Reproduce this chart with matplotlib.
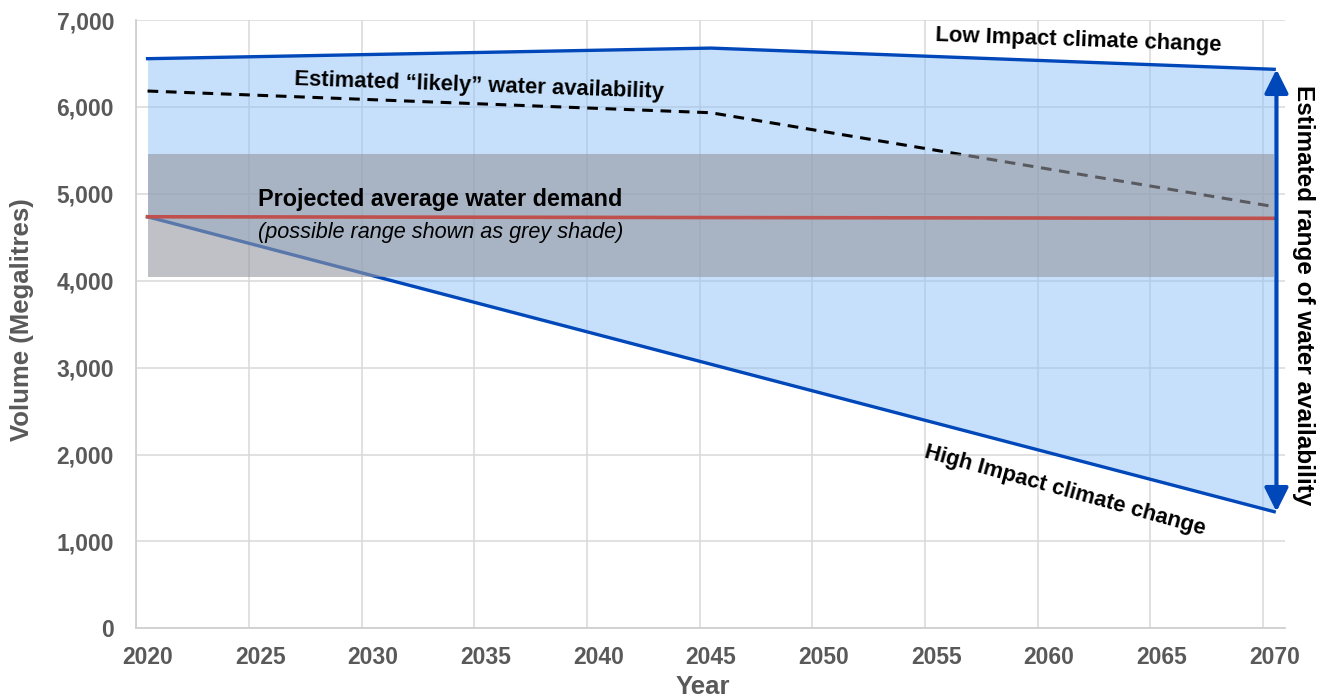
import numpy as np
import matplotlib
matplotlib.use('Agg')
import matplotlib.pyplot as plt
from matplotlib.ticker import FuncFormatter

plt.rcParams['font.family'] = ['Liberation Sans', 'DejaVu Sans']

# Data (Megalitres)
years = [2020, 2045, 2070]
low_impact = [6555, 6677, 6433]     # Low Impact climate change
likely = [6183, 5933, 4852]         # Estimated "likely" water availability
high_impact = [4736, 3039, 1342]    # High Impact climate change
demand_years = [2020, 2070]
demand = [4736, 4718]               # Projected average water demand
demand_low = [4046, 4046]           # possible range (grey shade)
demand_high = [5455, 5455]

tick_years = list(range(2020, 2071, 5))
y_ticks = list(range(0, 7001, 1000))

blue = '#0047BA'
label_grey = '#595959'

fig = plt.figure(figsize=(13.27, 7), dpi=100)
ax = fig.add_axes([0.1027, 0.1024, 0.866, 0.869])

# gridlines halfway between the data points (category-style axis)
for yr in tick_years:
    ax.axvline(yr - 0.5, color='#d9d9d9', lw=1.1, zorder=0)
for v in y_ticks:
    ax.axhline(v, color='#d9d9d9', lw=1.1, zorder=0)

# range of water availability
ax.fill_between(years, high_impact, low_impact, color='#8FC3F9', alpha=0.5, lw=0, zorder=1)
ax.plot(years, low_impact, color=blue, lw=2.4, zorder=2)
ax.plot(years, high_impact, color=blue, lw=2.4, zorder=2)
ax.plot(years, likely, color='black', lw=2.2, ls=(0, (3.5, 2.5)), zorder=2)

# demand range shade and average demand
ax.fill_between(demand_years, demand_low, demand_high, color='#9598a0', alpha=0.6, lw=0, zorder=3)
ax.plot(demand_years, demand, color='#C0504D', lw=2.6, zorder=4)

# double arrow for the range at the end year
ax.annotate('', xy=(years[-1] + 0.1, low_impact[-1]), xytext=(years[-1] + 0.1, high_impact[-1]),
            arrowprops=dict(arrowstyle='<|-|>', color=blue, lw=3, mutation_scale=36,
                            shrinkA=0, shrinkB=0), zorder=5, annotation_clip=False)
ax.text(2071.3, 3835, 'Estimated range of water availability', rotation=-90,
        ha='center', va='center', fontsize=17.5, fontweight='bold', color='black')

# annotations
ax.text(2061.3, 6770, 'Low Impact climate change', rotation=-2, rotation_mode='anchor',
        ha='center', va='center', fontsize=15.8, fontweight='bold')
ax.text(2034.7, 6240, 'Estimated \u201clikely\u201d water availability', rotation=-2,
        rotation_mode='anchor', ha='center', va='center', fontsize=15.8, fontweight='bold')
ax.text(2060.7, 1580, 'High Impact climate change', rotation=-15.5, rotation_mode='anchor',
        ha='center', va='center', fontsize=15.8, fontweight='bold')
ax.text(2024.9, 4940, 'Projected average water demand', ha='left', va='center',
        fontsize=16.8, fontweight='bold', zorder=6)
ax.text(2024.9, 4550, '(possible range shown as grey shade)', ha='left', va='center',
        fontsize=15.6, fontstyle='italic', zorder=6)

ax.set_xlim(2019.5, 2070.5)
ax.set_ylim(0, 7000)
ax.set_xticks(tick_years)
ax.set_yticks(y_ticks)
ax.yaxis.set_major_formatter(FuncFormatter(lambda v, p: f'{int(v):,}'))
ax.tick_params(length=0, labelsize=16.5, labelcolor=label_grey)
ax.tick_params(axis='y', pad=16)
ax.tick_params(axis='x', pad=13)
for lab in ax.get_xticklabels() + ax.get_yticklabels():
    lab.set_fontweight('bold')

for side in ['top', 'right']:
    ax.spines[side].set_visible(False)
for side in ['left', 'bottom']:
    ax.spines[side].set_color('#d0d0d0')
    ax.spines[side].set_linewidth(1.3)

ax.set_ylabel('Volume (Megalitres)', fontsize=18.5, fontweight='bold', color=label_grey)
ax.yaxis.set_label_coords(-0.089, 0.507)
ax.set_xlabel('Year', fontsize=18.5, fontweight='bold', color=label_grey)
ax.xaxis.set_label_coords(0.493, -0.077)

fig.savefig('out.png', dpi=100)
